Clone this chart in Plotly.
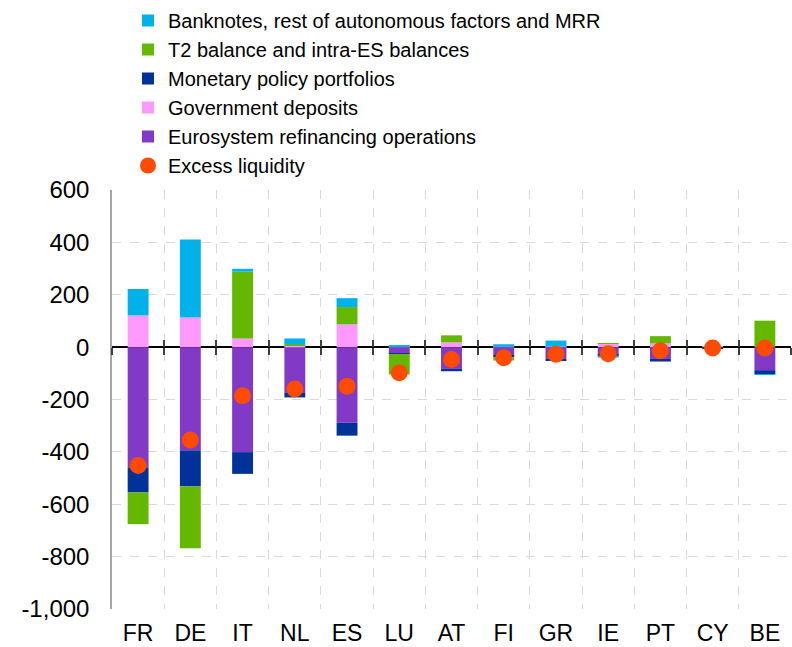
import plotly.graph_objects as go

countries = ["FR", "DE", "IT", "NL", "ES", "LU", "AT", "FI", "GR", "IE", "PT", "CY", "BE"]

banknotes_mrr = [101, 298, 11, 22, 34, 5, 0, 10, 23, -8, 0, 0, -1]
t2_intra_es = [-121, -236, 255, 5, 66, -78, 27, -12, 0, 2, 28, 0, 101]
mp_portfolios = [-96, -138, -83, -19, -49, -1, -9, -7, -8, -2, -10, -2, -15]
gov_deposits = [121, 113, 33, 6, 87, 1, 18, 1, 2, 13, 14, 1, 0]
refi_operations = [-459, -394, -401, -173, -289, -25, -83, -32, -45, -30, -45, -2, -88]
excess_liquidity = [-452, -355, -186, -160, -149, -98, -47, -41, -27, -25, -14, -3, -3]

y_ticks = [600, 400, 200, 0, -200, -400, -600, -800, -1000]
y_tick_text = ["600", "400", "200", "0", "-200", "-400", "-600", "-800", "-1,000"]
y_range = [-1000, 600]
x_range = [-0.5, len(countries) - 0.5]

FONT = "Liberation Sans, Arial, sans-serif"

fig = go.Figure()

# stacking order (relative): government deposits, refinancing, portfolios, T2, banknotes
bar_series = [
    ("Government deposits", gov_deposits, "#FF99FF", 4),
    ("Eurosystem refinancing operations", refi_operations, "#8139C6", 5),
    ("Monetary policy portfolios", mp_portfolios, "#003299", 3),
    ("T2 balance and intra-ES balances", t2_intra_es, "#65B800", 2),
    ("Banknotes, rest of autonomous factors and MRR", banknotes_mrr, "#00B1EA", 1),
]
for name, vals, color, rank in bar_series:
    fig.add_trace(go.Bar(
        x=countries, y=vals, name=name, legendrank=rank,
        marker=dict(color=color, line=dict(width=0)),
    ))

fig.add_trace(go.Scatter(
    x=countries, y=excess_liquidity, name="Excess liquidity", legendrank=6,
    mode="markers", marker=dict(color="#FF4B00", size=17, line=dict(width=0)),
))

# invisible helper traces so the tick-mark axes at zero get categories
for ax in ["x2", "x3"]:
    fig.add_trace(go.Scatter(
        x=countries, y=[0] * len(countries), xaxis=ax, mode="markers",
        marker=dict(opacity=0), showlegend=False, hoverinfo="skip",
    ))

zero_pos = (0 - y_range[0]) / (y_range[1] - y_range[0])

tick_axis_common = dict(
    type="category", categoryorder="array", categoryarray=countries,
    matches="x", overlaying="x", anchor="free", position=zero_pos,
    tickson="boundaries", ticklen=7, tickwidth=2,
    tickcolor="#404040", showticklabels=False, showgrid=False,
    showline=False, zeroline=False,
)

fig.update_layout(
    width=792, height=647,
    margin=dict(l=112, r=1, t=190, b=38, autoexpand=False),
    paper_bgcolor="white", plot_bgcolor="white",
    barmode="relative", bargap=0.6,
    font=dict(family=FONT, size=24, color="black"),
    showlegend=True,
    legend=dict(
        orientation="v", xref="container", yref="container",
        x=128 / 792, xanchor="left", y=1 - 1 / 647, yanchor="top",
        font=dict(family=FONT, size=20, color="black"),
        bgcolor="rgba(0,0,0,0)", borderwidth=0,
        tracegroupgap=0, itemsizing="trace",
    ),
    xaxis=dict(
        type="category", categoryorder="array", categoryarray=countries,
        range=x_range, autorange=False,
        tickson="boundaries", ticks="", showgrid=True,
        gridcolor="#D9D9D9", griddash="dash", gridwidth=1,
        showline=False, zeroline=False, automargin=False,
        tickfont=dict(family=FONT, size=23, color="black"),
        ticklabelstandoff=8,
    ),
    xaxis2=dict(ticks="outside", **tick_axis_common),
    xaxis3=dict(ticks="inside", **tick_axis_common),
    yaxis=dict(
        range=y_range, tickvals=y_ticks, ticktext=y_tick_text,
        showgrid=True, gridcolor="#D9D9D9", griddash="dash", gridwidth=1,
        zeroline=True, zerolinecolor="black", zerolinewidth=1.5,
        showline=True, linecolor="#A6A6A6", linewidth=1.5,
        ticks="", ticklabelstandoff=16, automargin=False,
        tickfont=dict(family=FONT, size=24, color="black"),
    ),
)

fig.write_html(
    "out.html",
    config={"displayModeBar": False},
    post_script="document.body.style.margin='0';document.body.style.padding='0';",
)
